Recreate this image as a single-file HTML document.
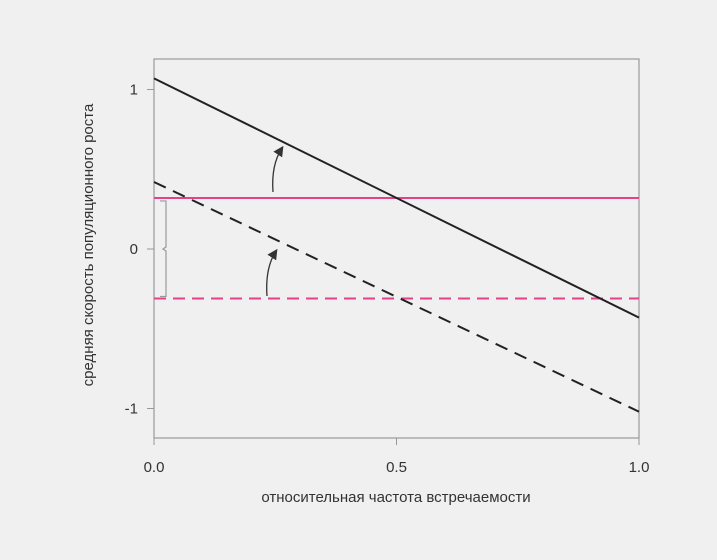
<!DOCTYPE html>
<html><head><meta charset="utf-8"><style>
body{margin:0;background:#f0f0f0;}
svg{display:block;font-family:"Liberation Sans",sans-serif;}
</style></head><body>
<svg width="717" height="560" id="c">
<rect width="717" height="560" fill="#f0f0f0"/>
</svg>
<script>
const xTicks=[0,0.5,1.0];
const xTickLabels=["0.0","0.5","1.0"];
const yTicks=[1,0,-1];
const yTickLabels=["1","0","-1"];
const solidLine=[1.07,-0.43];
const dashedLine=[0.42,-1.02];
const pinkSolid=0.32;
const pinkDashed=-0.31;
const xDomain=[0,1];
const X=v=>154+v*485, Y=v=>249-v*159.5;
const svg=document.getElementById('c');const NS="http://www.w3.org/2000/svg";
function mk(t,a,p){const e=document.createElementNS(NS,t);for(const k in a)e.setAttribute(k,a[k]);(p||svg).appendChild(e);return e;}
let e;
e=mk('rect',{x:154,y:59,width:485,height:379,fill:'none',stroke:'#999','stroke-width':1.2});


xTicks.forEach((v,i)=>{
 e=mk('line',{x1:X(v),x2:X(v),y1:438,y2:445,stroke:'#999'});
 
 
 e=mk('text',{x:X(v),y:472,'text-anchor':'middle','font-size':15,fill:'#333'});e.textContent=xTickLabels[i];
 
 
});
yTicks.forEach((v,i)=>{
 e=mk('line',{x1:147,x2:154,y1:Y(v),y2:Y(v),stroke:'#999'});
 
 
 e=mk('text',{x:138,y:Y(v)+5,'text-anchor':'end','font-size':15,fill:'#333'});e.textContent=yTickLabels[i];
 
 
});
e=mk('line',{x1:X(0),x2:X(1),y1:Y(pinkSolid),y2:Y(pinkSolid),stroke:'#e6408a','stroke-width':2});


e=mk('line',{x1:X(0),x2:X(1),y1:Y(pinkDashed),y2:Y(pinkDashed),stroke:'#e6408a','stroke-width':2,'stroke-dasharray':'12,7'});


e=mk('line',{x1:X(xDomain[0]),x2:X(xDomain[1]),y1:Y(solidLine[0]),y2:Y(solidLine[1]),stroke:'#222','stroke-width':2});


e=mk('line',{x1:X(xDomain[0]),x2:X(xDomain[1]),y1:Y(dashedLine[0]),y2:Y(dashedLine[1]),stroke:'#222','stroke-width':2,'stroke-dasharray':'13,8'});


e=mk('path',{d:`M160 ${Y(pinkSolid)+3} H166 V${Y(0)-2} L163 ${Y(0)} L166 ${Y(0)+2} V${Y(pinkDashed)-2} H160`,fill:'none',stroke:'#999','stroke-width':1.2});


mk('defs',{}).innerHTML='<marker id="ah" markerWidth="8" markerHeight="8" refX="6" refY="4" orient="auto"><path d="M0,0 L8,4 L0,8 z" fill="#333"/></marker>';
e=mk('path',{d:'M273 192 Q271 165 282 148',fill:'none',stroke:'#333','stroke-width':1.3,'marker-end':'url(#ah)'});


e=mk('path',{d:'M267 296 Q265 268 276 251',fill:'none',stroke:'#333','stroke-width':1.3,'marker-end':'url(#ah)'});


e=mk('text',{x:396,y:502,'text-anchor':'middle','font-size':15,fill:'#333'});e.textContent='относительная частота встречаемости';


e=mk('text',{x:0,y:0,transform:'translate(93,245) rotate(-90)','text-anchor':'middle','font-size':15,fill:'#333'});e.textContent='средняя скорость популяционного роста';


</script>
</body></html>
